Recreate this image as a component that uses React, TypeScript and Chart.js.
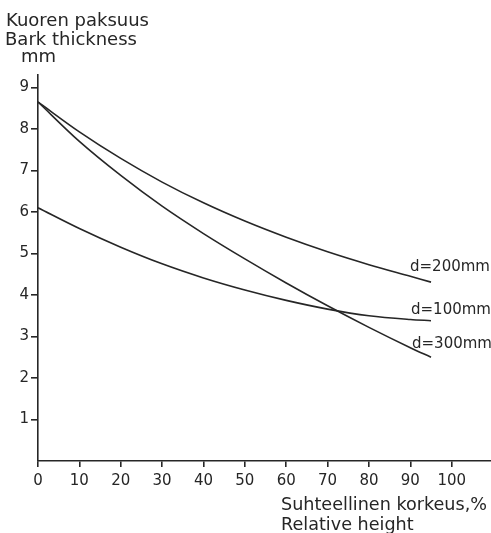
import React, { useEffect, useRef } from "react";
import { Chart, registerables } from "chart.js";

Chart.register(...registerables);

const relativeHeight = [0, 10, 20, 30, 40, 50, 60, 70, 80, 90, 95];
const d200 = [8.65, 7.93, 7.29, 6.72, 6.22, 5.78, 5.39, 5.04, 4.73, 4.45, 4.31];
const d100 = [6.1, 5.6, 5.15, 4.75, 4.41, 4.12, 3.87, 3.66, 3.5, 3.41, 3.38];
const d300 = [8.65, 7.7, 6.88, 6.14, 5.48, 4.87, 4.29, 3.74, 3.22, 2.73, 2.5];
const seriesNames = ["d=200mm", "d=100mm", "d=300mm"];
const yTitleLines = ["Kuoren paksuus", "Bark thickness", "mm"];
const xTitleLines = ["Suhteellinen korkeus,%", "Relative height"];

const INK = "#262626";
const FONT = "'DejaVu Sans', sans-serif";

const labelOffsets = [
  { dx: -21, dy: -15 },
  { dx: -20, dy: -11 },
  { dx: -19, dy: -13 },
];

const textPlugin = {
  id: "textPlugin",
  afterDraw(chart: any) {
    const ctx = chart.ctx;
    ctx.save();
    ctx.fillStyle = INK;
    ctx.textBaseline = "alphabetic";
    ctx.textAlign = "left";
    ctx.font = `18px ${FONT}`;
    ctx.fillText(yTitleLines[0], 6, 26);
    ctx.fillText(yTitleLines[1], 5, 45);
    ctx.fillText(yTitleLines[2], 21, 62);
    ctx.font = `17.6px ${FONT}`;
    ctx.fillText(xTitleLines[0], 281, 510);
    ctx.fillText(xTitleLines[1], 281, 530);
    ctx.font = `15px ${FONT}`;
    ctx.textBaseline = "middle";
    chart.data.datasets.forEach((ds: any, i: number) => {
      const meta = chart.getDatasetMeta(i);
      const last = meta.data[meta.data.length - 1];
      const off = labelOffsets[i];
      ctx.fillText(ds.label, last.x + off.dx, last.y + off.dy);
    });
    ctx.restore();
  },
};

export default function App() {
  const ref = useRef<HTMLCanvasElement>(null);
  useEffect(() => {
    if (!ref.current) return;
    const mk = (vals: number[]) => relativeHeight.map((x, i) => ({ x, y: vals[i] }));
    const dsStyle = {
      borderColor: INK,
      borderWidth: 1.6,
      pointRadius: 0,
      fill: false,
      cubicInterpolationMode: "monotone" as const,
    };
    const chart = new Chart(ref.current, {
      type: "line",
      data: {
        datasets: [
          { label: seriesNames[0], data: mk(d200), ...dsStyle },
          { label: seriesNames[1], data: mk(d100), ...dsStyle },
          { label: seriesNames[2], data: mk(d300), ...dsStyle },
        ],
      },
      options: {
        animation: false,
        responsive: false,
        devicePixelRatio: 1,
        layout: { padding: { top: 75, left: 0, right: 0, bottom: 0 } },
        plugins: { legend: { display: false }, tooltip: { enabled: false }, title: { display: false } },
        scales: {
          x: {
            type: "linear",
            min: 0,
            max: 109.5,
            afterFit: (s: any) => { s.height = 72; },
            border: { display: true, color: INK, width: 1.6 },
            grid: { drawOnChartArea: false, drawTicks: true, tickLength: 6, color: INK, lineWidth: 1.6 },
            ticks: {
              stepSize: 10,
              includeBounds: false,
              maxRotation: 0,
              autoSkip: false,
              padding: 5,
              color: INK,
              font: { family: FONT, size: 15 },
            },
          },
          y: {
            type: "linear",
            min: 0,
            max: 9.3,
            afterFit: (s: any) => { s.width = 38; },
            border: { display: true, color: INK, width: 1.6 },
            grid: {
              drawOnChartArea: false,
              drawTicks: true,
              tickLength: 7,
              lineWidth: 1.6,
              color: (c: any) => (c.tick && c.tick.value === 0 ? "rgba(0,0,0,0)" : INK),
            },
            ticks: {
              stepSize: 1,
              includeBounds: false,
              padding: 2,
              color: INK,
              font: { family: FONT, size: 15 },
              callback: (v: any) => (v === 0 ? "" : String(v)),
            },
          },
        },
      },
      plugins: [textPlugin],
    });
    return () => chart.destroy();
  }, []);
  return (
    <div style={{ position: "fixed", left: 0, top: 0, width: 491, height: 533, background: "#fff" }}>
      <canvas ref={ref} width={491} height={533} />
    </div>
  );
}
